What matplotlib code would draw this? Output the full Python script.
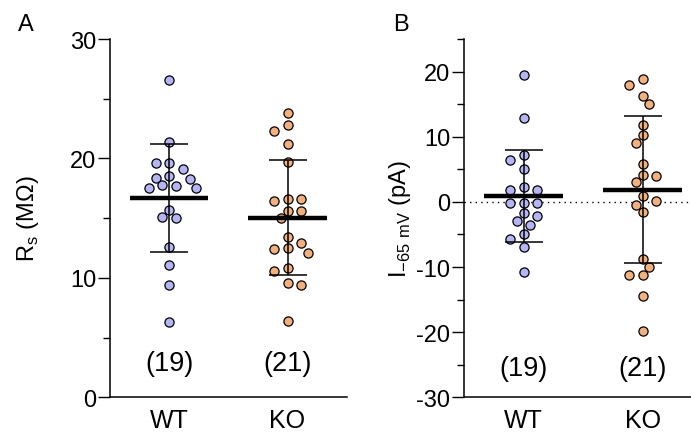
import numpy as np
import matplotlib
matplotlib.use('Agg')
import matplotlib.pyplot as plt

plt.rcParams['font.family'] = ['Liberation Sans', 'DejaVu Sans']
plt.rcParams['mathtext.fontset'] = 'custom'
plt.rcParams['mathtext.rm'] = 'Liberation Sans'
plt.rcParams['axes.unicode_minus'] = False

# data
groups = ['WT', 'KO']

rs_wt = [26.6, 21.4, 19.6, 19.6, 19.1, 18.5, 18.4, 18.3, 17.8, 17.7, 17.5, 17.5,
         15.7, 15.1, 15.0, 12.6, 11.1, 9.4, 6.3]
rs_ko = [23.8, 22.8, 22.3, 21.2, 19.7, 16.6, 16.6, 16.4, 15.6, 15.6, 15.0, 13.4,
         12.9, 12.5, 12.4, 12.1, 10.8, 10.6, 9.6, 9.4, 6.4]

i_wt = [19.4, 12.9, 7.2, 6.4, 5.0, 2.3, 1.8, 1.8, -0.1, -0.2, -0.1, -1.7, -2.2,
        -3.0, -3.6, -5.0, -5.7, -7.0, -10.7]
i_ko = [18.9, 17.9, 16.2, 15.1, 11.8, 10.2, 9.0, 5.8, 4.2, 4.0, 3.1, 0.9, 0.1,
        -0.5, -1.6, -8.8, -10.0, -11.3, -11.2, -14.5, -19.8]

c_wt = '#b4b4f6'
c_ko = '#f4b07a'

DIAM = 9.6   # marker diameter in px
STEP = 6.8   # horizontal slot in px


def swarm(ax, vals):
    # greedy beeswarm in pixel space, returns x offsets in data units
    xpx = abs(ax.transData.transform((1, 0))[0] - ax.transData.transform((0, 0))[0])
    ypx = abs(ax.transData.transform((0, 1))[1] - ax.transData.transform((0, 0))[1])
    vals = np.asarray(vals, float)
    offs = np.zeros(len(vals))
    placed = []
    for i in np.argsort(-vals, kind='stable'):
        y = vals[i] * ypx
        nleft = sum(1 for p in placed if p[0] < 0)
        nright = sum(1 for p in placed if p[0] > 0)
        k = 0
        while True:
            cands = [0.0] if k == 0 else ([-k * STEP, k * STEP] if nleft <= nright
                                          else [k * STEP, -k * STEP])
            ok = None
            for c in cands:
                if all((c - px) ** 2 + (y - py) ** 2 >= DIAM ** 2 for px, py in placed):
                    ok = c
                    break
            if ok is not None:
                placed.append((ok, y))
                offs[i] = ok / xpx
                break
            k += 1
    return offs


def panel(ax, data, colors, n_y):
    for k, (vals, col) in enumerate(zip(data, colors)):
        x = k + swarm(ax, vals)
        ax.plot(x, vals, 'o', ms=6.6, mfc=col, mec='black', mew=0.9, zorder=2)
        m = np.mean(vals)
        sd = np.std(vals, ddof=1)
        ax.plot([k - 0.33, k + 0.33], [m, m], color='black', lw=3.2, zorder=3,
                solid_capstyle='butt')
        ax.errorbar(k, m, yerr=sd, fmt='none', ecolor='black', elinewidth=1.1,
                    capsize=13.8, capthick=1.1, zorder=3)
        ax.text(k, n_y, '(%d)' % len(vals), ha='center', va='center', fontsize=19.5)
    ax.set_xticks(range(len(groups)))
    ax.set_xticklabels(groups, fontsize=18)
    ax.tick_params(axis='x', length=0, pad=8)
    ax.tick_params(axis='y', which='major', length=8.4, width=1.0, labelsize=17, pad=1.5)
    ax.tick_params(axis='y', which='minor', length=4.8, width=1.0)
    for s in ['top', 'right']:
        ax.spines[s].set_visible(False)
    for s in ['left', 'bottom']:
        ax.spines[s].set_linewidth(1.1)


fig = plt.figure(figsize=(6.91, 4.35), dpi=100)
ax1 = fig.add_axes([0.1592, 0.0844, 0.3425, 0.8236])
ax2 = fig.add_axes([0.6715, 0.0844, 0.3285, 0.8236])

ax1.set_xlim(-0.5, 1.5)
ax1.set_ylim(0, 30)
panel(ax1, [rs_wt, rs_ko], [c_wt, c_ko], 2.9)
ax1.set_yticks([0, 10, 20, 30])
ax1.set_yticks([5, 15, 25], minor=True)
ax1.set_ylabel(r'R$_\mathregular{s}$ (M$\Omega$)', fontsize=17)
ax1.yaxis.set_label_coords(-0.29, 0.5)

ax2.set_xlim(-0.5, 1.406)
ax2.set_ylim(-30, 25)
ax2.axhline(0, color='black', lw=1.0, ls=(0, (1, 3)), zorder=1)
panel(ax2, [i_wt, i_ko], [c_wt, c_ko], -25.5)
ax2.set_yticks([-30, -20, -10, 0, 10, 20])
ax2.set_yticks([-25, -15, -5, 5, 15, 25], minor=True)
ax2.set_ylabel(r'I$_\mathregular{-65\ mV}$ (pA)', fontsize=17)
ax2.yaxis.set_label_coords(-0.225, 0.5)

fig.text(0.0376, 0.9425, 'A', fontsize=17, ha='center', va='center')
fig.text(0.58, 0.9425, 'B', fontsize=17, ha='center', va='center')

fig.savefig('out.png', dpi=100)
